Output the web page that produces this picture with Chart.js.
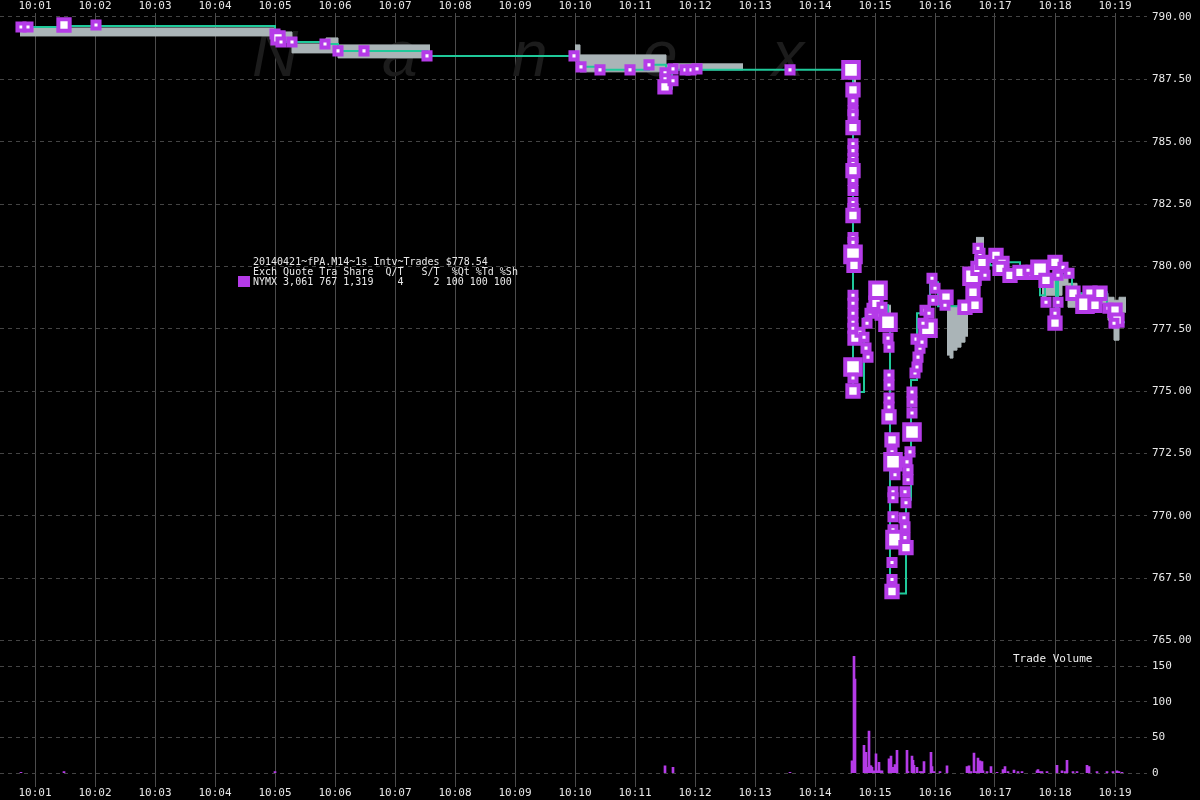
<!DOCTYPE html>
<html><head><meta charset="utf-8">
<script src="https://cdn.jsdelivr.net/npm/chart.js@4.4.1/dist/chart.umd.min.js"></script>
<style>html,body{margin:0;padding:0;background:#000;}canvas{display:block;}</style>
</head><body>
<canvas id="c" width="1200" height="800"></canvas>
<script>
// Times are seconds after 10:00:00
const minuteTicks = [60,120,180,240,300,360,420,480,540,600,660,720,780,840,900,960,1020,1080,1140];
const minuteLabels = ['10:01','10:02','10:03','10:04','10:05','10:06','10:07','10:08','10:09','10:10','10:11','10:12','10:13','10:14','10:15','10:16','10:17','10:18','10:19'];
const priceTicks = [765,767.5,770,772.5,775,777.5,780,782.5,785,787.5,790];
const volumeTicks = [0,50,100,150];

const legendLines = [
  '20140421~fPA.M14~1s Intv~Trades $778.54',
  'Exch Quote Tra Share  Q/T   S/T  %Qt %Td %Sh',
  'NYMX 3,061 767 1,319    4     2 100 100 100'
];

// Trades (time, price, size class)
const tradeSec = [46,53,89,121,300,303,306,317,350,363,389,452,599,606,625,655,674,690,690,690,698,698,710,716,722,815,
  876,878,878,878,878,878,878,878,878,878,878,878,878,878,878,878,878,878,878,879,878,878,878,878,878,880,878,878,878,
  885,889,891,893,892,895,897,901,903,905,907,913,913,914,914,914,914,914,914,917,917,918,920,918,918,918,918,920,917,917,917,
  931,930,930,929,931,930,933,933,932,935,937,937,937,937,940,942,943,945,941,947,953,948,950,957,960,958,971,954,970,
  990,1000,998,997,1003,1007,1005,1003,1021,1027,1010,1025,1035,1045,1058,1053,1065,1071,1080,1088,1083,1094,1071,1083,1080,1080,1098,1115,1113,1125,1110,1120,1133,1140,1142,1139];
const tradePx = [789.60,789.60,789.68,789.68,789.32,789.16,789.00,789.00,788.92,788.64,788.64,788.44,788.44,788.00,787.88,787.88,788.08,787.76,787.52,787.20,787.92,787.44,787.88,787.88,787.92,787.88,
  787.88,787.08,786.64,786.24,786.08,785.56,784.92,784.64,784.32,784.12,783.84,783.44,783.04,782.56,782.32,782.04,781.16,780.96,780.48,780.04,778.84,778.52,778.12,777.76,777.52,777.12,775.96,775.52,775.00,
  777.36,777.16,776.72,776.36,777.72,778.12,778.32,778.52,779.04,778.04,778.36,777.76,777.12,776.76,775.64,775.24,774.72,774.36,773.96,773.04,772.56,772.16,771.64,770.96,770.72,769.96,769.44,769.04,768.12,767.44,766.96,
  768.72,769.12,769.56,769.92,770.52,770.96,771.44,771.84,772.16,772.56,773.36,774.12,774.56,774.96,775.72,775.96,776.36,776.72,777.08,776.96,777.52,777.72,778.24,779.52,779.12,778.64,778.76,778.12,778.44,
  778.36,778.44,778.96,779.60,779.92,780.16,780.52,780.72,780.44,780.12,779.64,779.92,779.64,779.76,779.76,779.84,779.88,779.44,780.16,779.96,779.64,779.72,778.56,778.56,778.12,777.72,778.92,778.92,778.56,778.92,778.48,778.44,778.32,778.24,777.84,777.72];
const tradeQty = [1,1,3,1,1,3,1,1,1,1,1,1,1,1,1,1,1,1,1,3,1,1,1,1,1,1,
  8,3,1,1,1,3,1,1,1,1,3,1,1,1,1,3,1,1,8,3,1,1,1,1,1,3,8,1,3,
  1,1,1,1,1,1,1,3,8,1,1,8,1,1,1,1,1,1,3,3,1,8,1,1,1,1,1,8,1,1,3,
  3,1,1,1,1,1,1,1,1,1,8,1,1,1,1,1,1,1,1,1,8,1,1,1,1,1,3,1,1,
  3,3,3,8,3,3,1,1,3,3,1,3,3,3,3,1,8,3,3,1,1,1,1,1,1,3,3,3,1,3,8,3,1,3,3,1];

// Quote line (step changes)
const quoteSec = [46,89,300,303,306,350,363,452,603,625,674,691,697,878,889,895,902,905,913,915,931,936,942,955,963,993,1000,1015,1028,1045,1065,1070,1081,1083,1097,1111,1125,1132,1142,1150];
const quotePx = [789.60,789.64,789.32,789.16,789.00,788.92,788.64,788.44,788.00,787.88,788.08,787.12,787.88,774.96,777.92,778.64,779.04,778.44,777.44,766.88,770.64,775.44,778.12,779.36,778.40,779.84,780.32,780.04,780.16,779.84,778.84,779.92,777.84,779.64,778.92,778.52,778.96,778.24,777.76,777.76];

// Bid/ask band (null = gap)
const bandSec = [45,300,317,351,363,455,456, 600,605,691,698,768,769, 877,881,882, 910,916,917, 972,975,978,982,986,990,993,994, 1001,1009,1010, 1067,1071,1078,1087,1093,1102,1133,1139,1144,1151];
const bandHigh = [789.56,789.40,788.92,789.16,788.88,788.88,null, 788.88,788.48,788.08,788.12,788.12,null, 787.84,787.84,null, 778.44,778.44,null, 778.40,778.40,778.40,778.40,778.40,778.40,778.40,null, 781.16,781.16,null, 779.72,779.72,779.84,779.64,779.32,778.92,778.76,778.64,778.76,778.76];
const bandLow = [789.24,789.04,788.56,788.56,788.36,788.36,null, 788.24,787.80,787.84,787.88,787.88,null, 787.36,787.36,null, 777.92,777.92,null, 776.44,776.32,776.64,776.76,776.96,777.20,777.20,null, 780.32,780.32,null, 778.52,778.84,778.84,779.24,778.36,778.52,777.84,777.04,778.16,778.16];

// Trade volume per second
const volSec = [46,89,300,690,698,815,877,879,880,889,891,892,894,895,896,897,899,901,902,904,905,907,914,916,917,918,920,921,922,932,933,937,938,939,942,945,947,949,956,957,959,965,972,992,994,996,999,1001,1003,1005,1007,1008,1012,1016,1022,1028,1030,1033,1039,1043,1047,1062,1063,1065,1067,1072,1082,1087,1090,1092,1098,1102,1112,1114,1122,1132,1138,1142,1144,1147];
const volQty = [1,2,2,10,8,1,17,164,132,39,29,8,59,10,10,8,3,27,3,15,3,3,20,24,8,8,12,8,32,32,2,24,18,11,8,2,2,16,29,9,2,2,10,9,10,2,28,2,21,17,16,3,2,9,1,5,9,2,4,2,2,3,5,2,2,2,11,3,2,18,2,2,11,9,2,2,2,3,2,1];

const PURPLE = '#b53be8', GREEN = '#1fc99a', GRAY = '#aab4b7';
const MONO = '"DejaVu Sans Mono", monospace';
const sizeRadius = {1:5, 3:8, 8:11};

const decor = {
  id: 'decor',
  beforeDatasetsDraw(chart) {
    const ctx = chart.ctx;
    ctx.save();
    ctx.fillStyle = '#1c1c1c';
    ctx.font = 'italic 64px "Liberation Sans", sans-serif';
    ['N','a','n','e','x'].forEach((ch, i) => ctx.fillText(ch, 252 + i * 130, 76));
    ctx.restore();
  },
  afterDraw(chart) {
    const ctx = chart.ctx;
    ctx.save();
    ctx.font = '10px ' + MONO;
    ctx.fillStyle = '#e8e8e8';
    ctx.textBaseline = 'middle';
    legendLines.forEach((t, i) => ctx.fillText(t, 253, 262 + i * 10));
    ctx.fillStyle = PURPLE;
    ctx.fillRect(238, 276, 12, 11);
    ctx.font = '11px ' + MONO;
    ctx.fillStyle = '#f0f0f0';
    ctx.fillText('Trade Volume', 1013, 659);
    ctx.restore();
  }
};

const xCommon = (pos) => ({
  type: 'linear', position: pos, min: 25, max: 1172, offset: false,
  afterBuildTicks: s => { s.ticks = minuteTicks.map(v => ({value: v})); },
  afterFit: s => { s.paddingLeft = 0; s.paddingRight = 0; },
  ticks: { callback: (v, i) => minuteLabels[i], color: '#e8e8e8', font: {family: MONO, size: 11, lineHeight: 1}, padding: 1, maxRotation: 0, autoSkip: false },
  grid: { display: pos === 'bottom', offset: false, color: '#4c4c4c', lineWidth: 1, drawTicks: false },
  border: { display: false }
});

new Chart(document.getElementById('c'), {
  type: 'scatter',
  data: {
    datasets: [
      { type: 'line', label: 'ask', data: bandSec.map((s, i) => ({x: s, y: bandHigh[i]})), yAxisID: 'y', xAxisID: 'x',
        stepped: 'before', spanGaps: false, borderColor: GRAY, borderWidth: 1, pointRadius: 0, fill: false, order: 5 },
      { type: 'line', label: 'bid', data: bandSec.map((s, i) => ({x: s, y: bandLow[i]})), yAxisID: 'y', xAxisID: 'x',
        stepped: 'before', spanGaps: false, borderColor: GRAY, borderWidth: 1, pointRadius: 0, fill: '-1', backgroundColor: GRAY, order: 4 },
      { type: 'bar', label: 'volume', data: volSec.map((s, i) => ({x: s, y: volQty[i]})), yAxisID: 'yv', xAxisID: 'x',
        backgroundColor: PURPLE, barThickness: 2, order: 3 },
      { type: 'line', label: 'quote', data: quoteSec.map((s, i) => ({x: s, y: quotePx[i]})), yAxisID: 'y', xAxisID: 'x',
        stepped: 'before', borderColor: GREEN, borderWidth: 2, pointRadius: 0, fill: false, order: 2 },
      { type: 'scatter', label: 'trades', data: tradeSec.map((s, i) => ({x: s, y: tradePx[i]})), yAxisID: 'y', xAxisID: 'x',
        pointStyle: 'rect', pointRadius: tradeQty.map(q => sizeRadius[q]), pointBorderWidth: 4,
        pointBackgroundColor: '#ffffff', pointBorderColor: PURPLE, showLine: false, order: 1 }
    ]
  },
  options: {
    responsive: false, devicePixelRatio: 1, animation: false, events: [],
    layout: { padding: 0, autoPadding: false },
    plugins: { legend: { display: false }, tooltip: { enabled: false } },
    scales: {
      x: xCommon('bottom'),
      x2: xCommon('top'),
      y: {
        type: 'linear', position: 'right', stack: 'panes', stackWeight: 638, min: 764.64, max: 790.16,
        afterBuildTicks: s => { s.ticks = priceTicks.map(v => ({value: v})); },
        afterFit: s => { s.width = 53; },
        ticks: { callback: v => Number(v).toFixed(2), color: '#e8e8e8', font: {family: MONO, size: 11}, padding: 5 },
        grid: { color: '#444444', lineWidth: 1, drawTicks: false },
        border: { display: false, dash: [4, 4] }
      },
      yv: {
        type: 'linear', position: 'right', stack: 'panes', stackWeight: 138, min: -19.6, max: 173.8,
        afterBuildTicks: s => { s.ticks = volumeTicks.map(v => ({value: v})); },
        afterFit: s => { s.width = 53; },
        ticks: { callback: v => String(v), color: '#e8e8e8', font: {family: MONO, size: 11}, padding: 5 },
        grid: { color: '#444444', lineWidth: 1, drawTicks: false },
        border: { display: false, dash: [4, 4] }
      }
    }
  },
  plugins: [decor]
});
</script>
</body></html>
